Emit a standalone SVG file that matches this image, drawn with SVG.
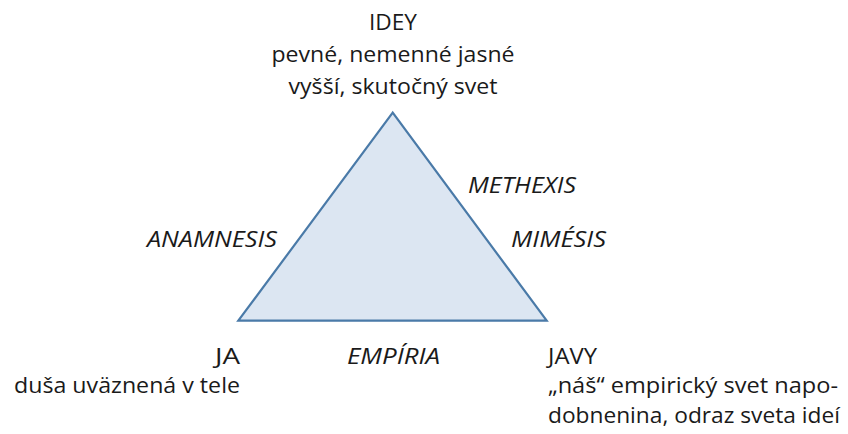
<svg xmlns="http://www.w3.org/2000/svg" width="848" height="434" viewBox="0 0 848 434">
<style>
text{font-family:"Open Sans","Noto Sans","Liberation Sans",sans-serif;font-size:21px;fill:#1a1a1a}
.it{font-style:italic}
.tri{fill:#dce6f2;stroke:#4a7aa8;stroke-width:2.2;stroke-linejoin:miter}
</style>
<rect width="848" height="434" fill="#ffffff"/>
<g id="connectors">
<polygon class="tri" points="392.7,112.7 238.3,320.7 546.7,320.7"/>
</g>
<g id="idey">
<text x="393" y="30" text-anchor="middle" textLength="48" lengthAdjust="spacingAndGlyphs">IDEY</text>
<text x="393" y="62" text-anchor="middle" textLength="243" lengthAdjust="spacingAndGlyphs">pevné, nemenné jasné</text>
<text x="393" y="94" text-anchor="middle" textLength="209" lengthAdjust="spacingAndGlyphs">vyšší, skutočný svet</text>
</g>
<g id="labels">
<text class="it" x="468" y="193" textLength="108" lengthAdjust="spacingAndGlyphs">METHEXIS</text>
<text class="it" x="511" y="247" textLength="95" lengthAdjust="spacingAndGlyphs">MIMÉSIS</text>
<text class="it" x="147" y="247" textLength="130" lengthAdjust="spacingAndGlyphs">ANAMNESIS</text>
<text class="it" x="347" y="364" textLength="93" lengthAdjust="spacingAndGlyphs">EMPÍRIA</text>
</g>
<g id="ja">
<text x="215" y="364" textLength="25" lengthAdjust="spacingAndGlyphs">JA</text>
<text x="14" y="393" textLength="226" lengthAdjust="spacingAndGlyphs">duša uväznená v tele</text>
</g>
<g id="javy">
<text x="548" y="364" textLength="49" lengthAdjust="spacingAndGlyphs">JAVY</text>
<text x="548" y="393" textLength="290" lengthAdjust="spacingAndGlyphs">„náš“ empirický svet napo-</text>
<text x="548" y="423" textLength="292" lengthAdjust="spacingAndGlyphs">dobnenina, odraz sveta ideí</text>
</g>
</svg>
